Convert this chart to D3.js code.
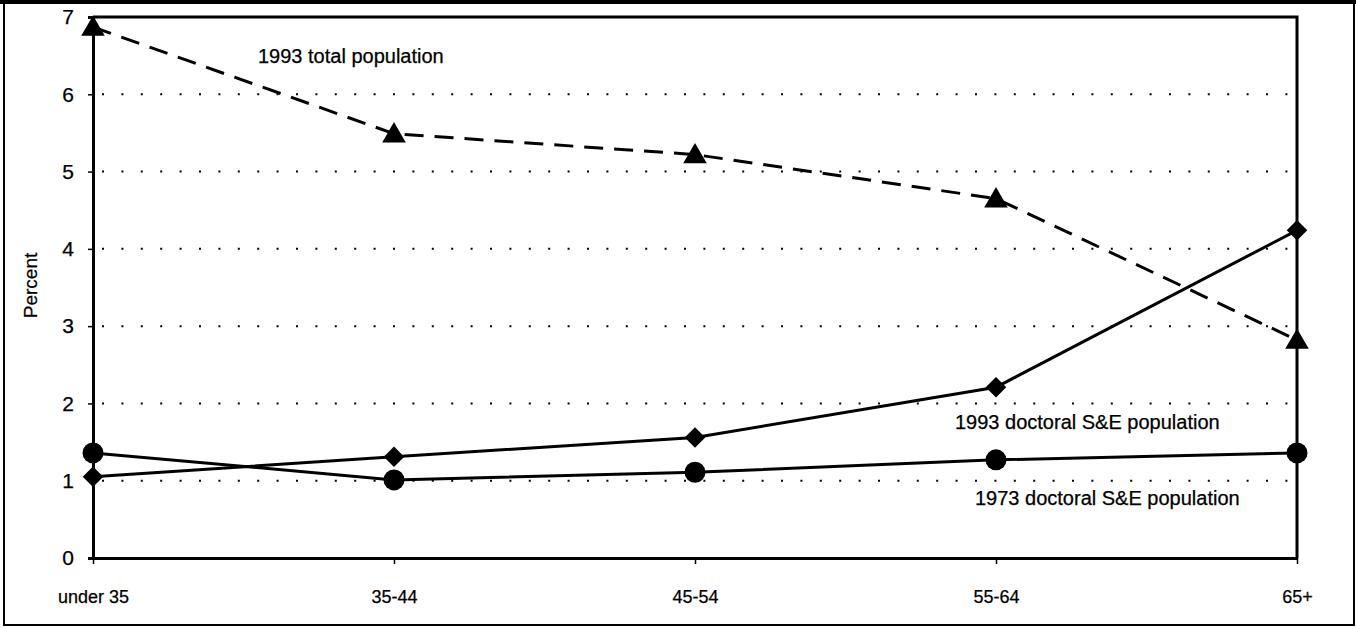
<!DOCTYPE html>
<html>
<head>
<meta charset="utf-8">
<script src="https://cdn.jsdelivr.net/npm/d3@7"></script>
<style>
  html, body { margin: 0; padding: 0; background: #fff; }
  svg { display: block; }
  text { font-family: "Liberation Sans Narrow", "Arial Narrow", "Liberation Sans", Arial, sans-serif; fill: #000; stroke: #000; stroke-width: 0.25px; }
</style>
</head>
<body>
<svg id="chart" width="1356" height="628"></svg>
<script>
// ---- data ----
const categories = ["under 35", "35-44", "45-54", "55-64", "65+"];
const total1993 = [6.87, 5.49, 5.22, 4.65, 2.82];
const doctoral1993 = [1.05, 1.31, 1.56, 2.21, 4.24];
const doctoral1973 = [1.36, 1.01, 1.11, 1.27, 1.36];
const yTicks = [0, 1, 2, 3, 4, 5, 6, 7];
const seriesLabels = ["1993 total population", "1993 doctoral S&E population", "1973 doctoral S&E population"];

const svg = d3.select("#chart");
const W = 1356, H = 628;

// outer frame
svg.append("rect").attr("x", 0).attr("y", 0).attr("width", W).attr("height", 4).attr("fill", "#000");
svg.append("rect").attr("x", 4).attr("y", 2).attr("width", 1350).attr("height", 623)
  .attr("fill", "none").attr("stroke", "#000").attr("stroke-width", 2);

const x = d3.scalePoint().domain(categories).range([93, 1297]);
const y = d3.scaleLinear().domain([0, 7]).range([558, 17]);

// dotted gridlines
const grid = svg.append("g");
yTicks.filter(t => t > 0 && t < 7).forEach(t => {
  grid.append("line")
    .attr("x1", 102).attr("x2", 1292)
    .attr("y1", y(t)).attr("y2", y(t))
    .attr("stroke", "#000").attr("stroke-width", 2)
    .attr("stroke-dasharray", "2,17.4");
});

// plot frame (top & right)
svg.append("path")
  .attr("d", `M${x(categories[0])},${y(7)} H${x(categories[4])} V${y(0)}`)
  .attr("fill", "none").attr("stroke", "#000").attr("stroke-width", 3);

// axes
const yAxis = d3.axisLeft(y).tickValues(yTicks).tickSize(5).tickPadding(14).tickFormat(d3.format("d"));
const gy = svg.append("g").attr("transform", `translate(${x(categories[0])},0)`).call(yAxis);
gy.select(".domain").attr("stroke-width", 3);
gy.selectAll(".tick line").attr("stroke-width", 1.5);
gy.selectAll(".tick text").attr("font-size", 21);

const xAxis = d3.axisBottom(x).tickSize(6).tickPadding(26).tickSizeOuter(0);
const gx = svg.append("g").attr("transform", `translate(0,${y(0)})`).call(xAxis);
gx.select(".domain").attr("stroke-width", 3);
gx.selectAll(".tick line").attr("stroke-width", 1.5);
gx.selectAll(".tick text").attr("font-size", 18);

svg.selectAll(".domain, .tick line").attr("stroke", "#000");
svg.selectAll(".tick text").attr("fill", "#000");
svg.selectAll("g").attr("font-family", null);

// y label
svg.append("text")
  .attr("transform", `translate(37,${(y(0) + y(7)) / 2 - 2}) rotate(-90)`)
  .attr("text-anchor", "middle").attr("font-size", 19)
  .text("Percent");

const line = d3.line().x((d, i) => x(categories[i])).y(d => y(d));

// lines
svg.append("path").datum(total1993).attr("d", line)
  .attr("fill", "none").attr("stroke", "#000").attr("stroke-width", 3)
  .attr("stroke-dasharray", "19,11");
svg.append("path").datum(doctoral1993).attr("d", line)
  .attr("fill", "none").attr("stroke", "#000").attr("stroke-width", 3);
svg.append("path").datum(doctoral1973).attr("d", line)
  .attr("fill", "none").attr("stroke", "#000").attr("stroke-width", 3);

// markers
const tri = d3.symbol().type(d3.symbolTriangle).size(240);
svg.selectAll(".tri").data(total1993).enter().append("path")
  .attr("d", tri)
  .attr("transform", (d, i) => `translate(${x(categories[i])},${y(d) + 2})`)
  .attr("fill", "#000");

const dia = d3.symbol().type(d3.symbolSquare).size(210);
svg.selectAll(".dia").data(doctoral1993).enter().append("path")
  .attr("d", dia)
  .attr("transform", (d, i) => `translate(${x(categories[i])},${y(d)}) rotate(45)`)
  .attr("fill", "#000");

svg.selectAll(".circ").data(doctoral1973).enter().append("circle")
  .attr("cx", (d, i) => x(categories[i])).attr("cy", d => y(d)).attr("r", 10.5)
  .attr("fill", "#000");

// series labels
const labelPos = [[258, 63], [955, 429], [975, 505]];
seriesLabels.forEach((s, i) => {
  svg.append("text").attr("x", labelPos[i][0]).attr("y", labelPos[i][1])
    .attr("font-size", 20).text(s);
});
</script>
</body>
</html>
